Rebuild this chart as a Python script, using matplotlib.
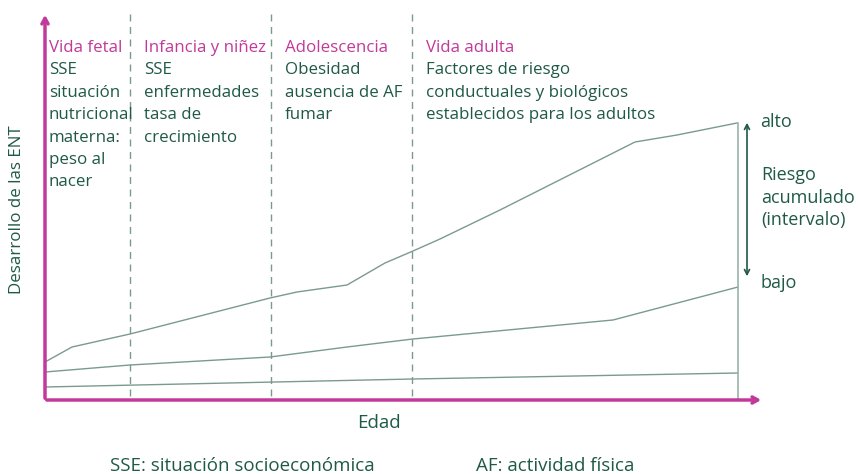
import matplotlib
matplotlib.use('Agg')
import matplotlib.pyplot as plt

# diagram coordinates (x: edad, y: riesgo; y grows downward like the source)
top_x = [45, 72, 130, 270, 297, 347, 385, 413, 440, 500, 635, 677, 737]
top_y = [362, 347, 334, 298, 292, 285, 263, 251, 239, 210, 142, 135, 123]
mid_x = [45, 130, 270, 347, 413, 613, 738]
mid_y = [372, 365, 357, 347, 339, 320, 287]
low_x = [45, 413, 738]
low_y = [387, 379, 373]
stage_x = [130, 271, 412]

stages = ['Vida fetal', 'Infancia y niñez', 'Adolescencia', 'Vida adulta']
stage_pos = [49, 144, 285, 426]
factors = [
    ['SSE', 'situación', 'nutricional', 'materna:', 'peso al', 'nacer'],
    ['SSE', 'enfermedades', 'tasa de', 'crecimiento'],
    ['Obesidad', 'ausencia de AF', 'fumar'],
    ['Factores de riesgo', 'conductuales y biológicos', 'establecidos para los adultos'],
]

MAG = '#C2399A'
GRN = '#1F5A46'
CRV = '#7A9B8C'
plt.rcParams['font.family'] = ['Open Sans', 'DejaVu Sans']

fig = plt.figure(figsize=(8.58, 4.74), dpi=100)
ax = fig.add_axes([0, 0, 1, 1])
ax.set_xlim(0, 858)
ax.set_ylim(474, 0)
ax.axis('off')

# curves
for xs, ys in [(top_x, top_y), (mid_x, mid_y), (low_x, low_y)]:
    ax.plot(xs, ys, color=CRV, lw=1.0)
ax.plot([738, 738], [400, 123], color='#9AB3A8', lw=1.2)

# stage separators
for x in stage_x:
    ax.plot([x, x], [14, 400], color=CRV, lw=1.0, ls=(0, (5, 4)))

# axes arrows
ax.annotate('', xy=(45, 12), xytext=(45, 401),
            arrowprops=dict(arrowstyle='->,head_length=0.4,head_width=0.22', color=MAG, lw=2.5))
ax.annotate('', xy=(764, 400), xytext=(44, 400),
            arrowprops=dict(arrowstyle='->,head_length=0.4,head_width=0.22', color=MAG, lw=2.5))

# accumulated risk arrow
ax.annotate('', xy=(747, 120), xytext=(747, 279),
            arrowprops=dict(arrowstyle='<->,head_length=0.35,head_width=0.18', color=GRN, lw=1.2))

fs = 12.2
for name, xp, lines in zip(stages, stage_pos, factors):
    ax.text(xp, 48, name, color=MAG, fontsize=fs, va='center', ha='left')
    for i, ln in enumerate(lines):
        ax.text(xp, 70 + i * 22.5, ln, color=GRN, fontsize=fs, va='center', ha='left')

fr = 13
ax.text(760, 122, 'alto', color=GRN, fontsize=fr, va='center')
ax.text(761, 175, 'Riesgo', color=GRN, fontsize=fr, va='center')
ax.text(761, 198, 'acumulado', color=GRN, fontsize=fr, va='center')
ax.text(761, 220, '(intervalo)', color=GRN, fontsize=fr, va='center')
ax.text(760, 283, 'bajo', color=GRN, fontsize=fr, va='center')

ax.text(17, 210, 'Desarrollo de las ENT', color=GRN, fontsize=12.2, rotation=90,
        va='center', ha='center')
fb = 13.5
ax.text(379, 423, 'Edad', color=GRN, fontsize=fb, va='center', ha='center')
ax.text(242, 466, 'SSE: situación socioeconómica', color=GRN, fontsize=fb, va='center', ha='center')
ax.text(555, 466, 'AF: actividad física', color=GRN, fontsize=fb, va='center', ha='center')

fig.savefig('out.png', dpi=100)
